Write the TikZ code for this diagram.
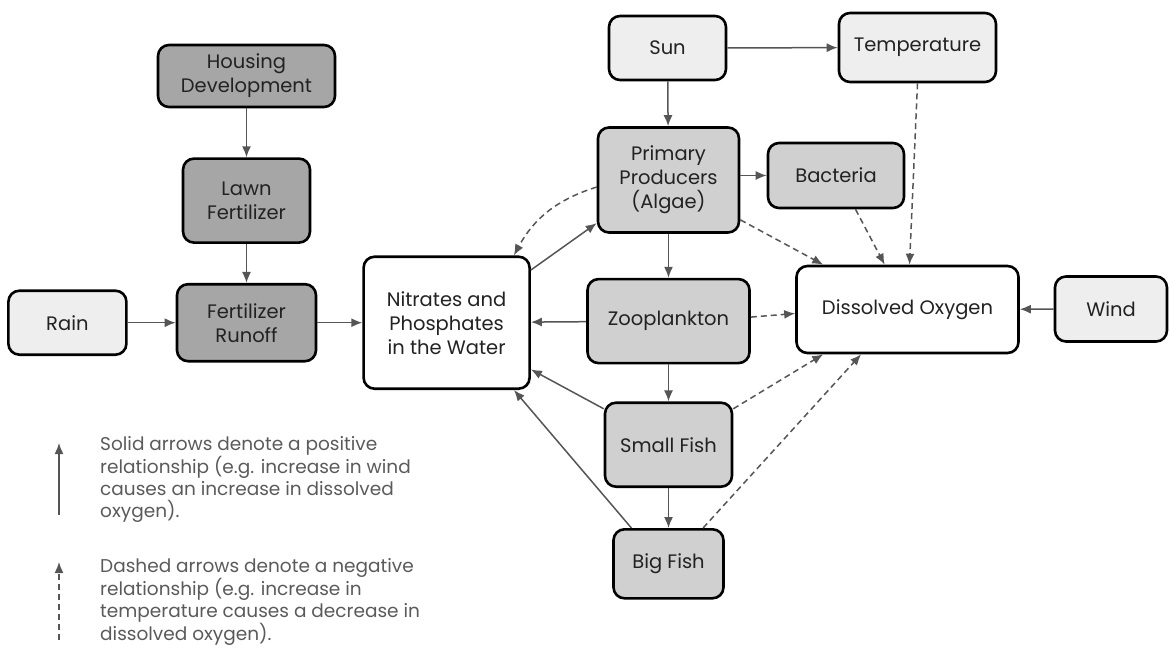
\documentclass[tikz,border=0pt]{standalone}
\usepackage{fontspec}
\setmainfont{Poppins}
\usepackage{xcolor}
\usepackage{tikz}
\usetikzlibrary{positioning,arrows.meta}
\definecolor{boxDark}{HTML}{A6A6A6}
\definecolor{boxMid}{HTML}{D0D0D0}
\definecolor{boxLight}{HTML}{EEEEEE}
\definecolor{lineGray}{HTML}{555555}
\definecolor{textDark}{HTML}{222222}
\definecolor{textGray}{HTML}{5A5A5A}
\tikzset{
  block/.style={draw=black, line width=2.6pt, rounded corners=11pt, fill=white, text=textDark, align=center, inner sep=2pt, font=\fontsize{19.5}{24}\selectfont},
  blockDark/.style={block, fill=boxDark},
  blockMid/.style={block, fill=boxMid},
  blockLight/.style={block, fill=boxLight},
  arrow/.style={-{Latex[length=11pt,width=9pt]}, draw=lineGray, line width=1.5pt},
  arrowNeg/.style={arrow, dash pattern=on 6pt off 4pt},
  legendText/.style={text=textGray, align=left, inner sep=0pt, font=\fontsize{18.5}{22}\selectfont}
}

\begin{document}
\begin{tikzpicture}[x=1pt, y=-1pt]
  \useasboundingbox (0,0) rectangle (1169,650);

  % fertilizer chain
  \node[blockDark, minimum width=177pt, minimum height=62pt] (housing) at (246.5,76) {Housing\\Development};
  \node[blockDark, below=49pt of housing, minimum width=127pt, minimum height=84pt] (lawn) {Lawn\\Fertilizer};
  \node[blockDark, below=39pt of lawn, minimum width=139pt, minimum height=77pt] (runoff) {Fertilizer\\Runoff};
  \node[blockLight, left=48pt of runoff, minimum width=118pt, minimum height=64pt] (rain) {Rain};
  \node[block, right=45pt of runoff, minimum width=166pt, minimum height=132pt] (nitrates) {Nitrates and\\Phosphates\\in the Water};

  % food web
  \node[blockLight, minimum width=117pt, minimum height=64pt] (sun) at (667.5,48) {Sun};
  \node[blockLight, minimum width=157pt, minimum height=69pt] (temp) at (917.5,47.5) {Temperature};
  \node[blockMid, minimum width=141pt, minimum height=105pt] (algae) at (668.5,180) {Primary\\Producers\\(Algae)};
  \node[blockMid, minimum width=136pt, minimum height=65pt] (bacteria) at (836,175.5) {Bacteria};
  \node[blockMid, below=44pt of algae, minimum width=162pt, minimum height=84pt] (zoo) {Zooplankton};
  \node[blockMid, below=37pt of zoo, minimum width=127pt, minimum height=84pt] (smallFish) {Small Fish};
  \node[blockMid, below=40pt of smallFish, minimum width=110pt, minimum height=69pt] (bigFish) {Big Fish};
  \node[block, minimum width=222pt, minimum height=87pt] (oxygen) at (907.5,309.5) {Dissolved Oxygen};
  \node[blockLight, minimum width=112pt, minimum height=65pt] (wind) at (1111,309) {Wind};

  % positive links
  \draw[arrow] (housing) -- (lawn);
  \draw[arrow] (lawn) -- (runoff);
  \draw[arrow] (rain) -- (runoff);
  \draw[arrow] (runoff) -- (nitrates);
  \draw[arrow] (sun) -- (algae);
  \draw[arrow] (sun) -- (temp);
  \draw[arrow] (algae.east |- bacteria) -- (bacteria);
  \draw[arrow] (algae) -- (zoo);
  \draw[arrow] (zoo) -- (smallFish);
  \draw[arrow] (smallFish) -- (bigFish);
  \draw[arrow] (nitrates.32) -- (algae.211);
  \draw[arrow] (zoo) -- (nitrates);
  \draw[arrow] (smallFish.151) -- (nitrates.-29);
  \draw[arrow] (bigFish.136) -- (nitrates.-45);
  \draw[arrow] (wind) -- (oxygen);

  % negative links
  \draw[arrowNeg] ([yshift=-7pt]algae.west) to[bend right=22] ([xshift=-17pt]nitrates.north east);
  \draw[arrowNeg] (algae.-29) -- (oxygen.152);
  \draw[arrowNeg] (bacteria.-60) -- (oxygen.117);
  \draw[arrowNeg] (temp.south) -- ([xshift=2pt]oxygen.north);
  \draw[arrowNeg] ([yshift=4pt]zoo.east) -- ([yshift=-4pt]oxygen.west);
  \draw[arrowNeg] (smallFish.29) -- (oxygen.208);
  \draw[arrowNeg] (bigFish.46) -- (oxygen.224);

  % legend
  \coordinate (solidFoot) at (59,515);
  \coordinate (solidTip) at (59,443);
  \coordinate (dashFoot) at (59,640);
  \coordinate (dashTip) at (59,562);
  \draw[arrow] (solidFoot) -- (solidTip);
  \draw[arrowNeg] (dashFoot) -- (dashTip);
  \node[legendText, anchor=north west] (legSolid) at (100,436) {Solid arrows denote a positive\\relationship (e.g. increase in wind\\causes an increase in dissolved\\oxygen).};
  \node[legendText, anchor=north west] (legDashed) at (100,558) {Dashed arrows denote a negative\\relationship (e.g. increase in\\temperature causes a decrease in\\dissolved oxygen).};
\end{tikzpicture}
\end{document}
